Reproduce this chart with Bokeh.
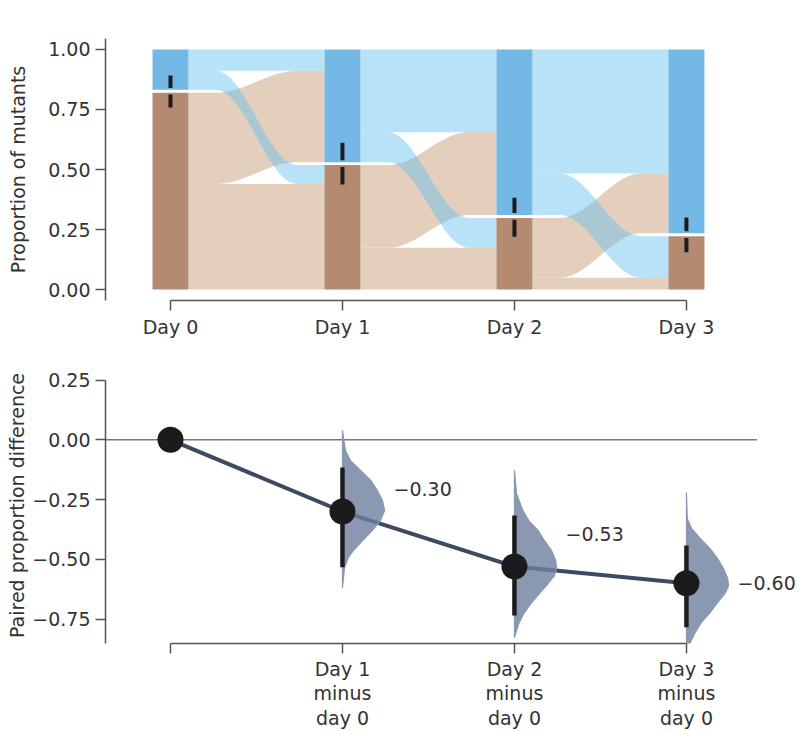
import numpy as np
from bokeh.plotting import figure
from bokeh.layouts import column
from bokeh.models import Range1d, FixedTicker, CustomJSTickFormatter
from bokeh.core.properties import value
from bokeh.embed import file_html
from bokeh.resources import INLINE

# ---------------- data ----------------
days = ["Day 0", "Day 1", "Day 2", "Day 3"]
mutant_prop = [0.83, 0.525, 0.302, 0.225]
ci_low = [0.758, 0.4375, 0.22, 0.155]
ci_high = [0.892, 0.611, 0.382, 0.30]

# transitions between consecutive days (fractions of the population)
stay_wt = [0.09, 0.349, 0.523]
wt_to_mut = [0.08, 0.126, 0.175]
mut_to_wt = [0.385, 0.349, 0.252]
stay_mut = [0.445, 0.176, 0.05]

diff_labels = ["", "Day 1\nminus\nday 0", "Day 2\nminus\nday 0", "Day 3\nminus\nday 0"]
diff_mean = [0.0, -0.30, -0.53, -0.60]
diff_lo = [-0.533, -0.735, -0.784]
diff_hi = [-0.116, -0.317, -0.442]
diff_text = ["\u22120.30", "\u22120.53", "\u22120.60"]
label_y = [-0.205, -0.396, -0.597]

# bootstrap density (relative half-width)
dens_y = [
    [0.04, -0.045, -0.087, -0.128, -0.170, -0.212, -0.254, -0.296, -0.338, -0.379, -0.421, -0.463, -0.492, -0.534, -0.62],
    [-0.128, -0.225, -0.296, -0.338, -0.379, -0.421, -0.463, -0.505, -0.534, -0.568, -0.601, -0.643, -0.685, -0.727, -0.769, -0.810, -0.827],
    [-0.22, -0.329, -0.371, -0.413, -0.455, -0.497, -0.539, -0.580, -0.610, -0.639, -0.681, -0.723, -0.765, -0.806, -0.848, -0.88],
]
dens_w = [
    [0.0, 0.07, 0.19, 0.43, 0.67, 0.83, 0.95, 1.0, 0.90, 0.71, 0.48, 0.26, 0.14, 0.05, 0.0],
    [0.0, 0.05, 0.2, 0.34, 0.56, 0.71, 0.88, 0.98, 1.0, 0.95, 0.8, 0.59, 0.39, 0.22, 0.1, 0.03, 0.0],
    [0.0, 0.02, 0.12, 0.33, 0.56, 0.74, 0.88, 0.98, 1.0, 0.93, 0.74, 0.56, 0.35, 0.21, 0.09, 0.0],
]

# ---------------- styles ----------------
FONT = "DejaVu Sans"
TXT = "#333333"
AX = "#555555"
BROWN_BAR = "#b48a71"
BLUE_BAR = "#74b9e6"
BEIGE = "#e4cfbd"
BLUE_FLOW = "#61bef0"
BAR_HW = 0.1047
GAP = 0.012
SC = 1 - GAP
VIOLIN_W = 0.245

X0, X1 = -0.3779, 3.64


def style(p):
    p.outline_line_color = None
    p.xgrid.visible = False
    p.ygrid.visible = False
    p.background_fill_color = "white"
    p.border_fill_color = "white"
    for ax in (p.xaxis[0], p.yaxis[0]):
        ax.axis_line_color = AX
        ax.axis_line_width = 1.5
        ax.major_tick_line_color = AX
        ax.major_tick_line_width = 1.5
        ax.major_tick_out = 10
        ax.major_tick_in = 0
        ax.minor_tick_line_color = None
        ax.major_label_text_font = FONT
        ax.major_label_text_font_size = "19px"
        ax.major_label_text_color = TXT
        ax.axis_label_text_font = FONT
        ax.axis_label_text_font_size = "19px"
        ax.axis_label_text_color = TXT
        ax.axis_label_text_font_style = "normal"
        ax.major_label_standoff = 5


# ---------------- top: sankey of proportions ----------------
p1 = figure(width=798, height=348, x_range=Range1d(X0, X1), y_range=Range1d(-0.0458, 1.0458),
            output_backend="svg", toolbar_location=None,
            min_border_left=105, min_border_right=2, min_border_top=38, min_border_bottom=48)
style(p1)


def curve(xa, xb, ya, yb, n=80):
    xs = np.linspace(xa, xb, n)
    t = (xs - xa) / (xb - xa)
    u = np.clip((t - 0.2) / 0.6, 0, 1)
    f = (1 - np.cos(np.pi * u)) / 2
    return xs, ya + (yb - ya) * f


for i in range(3):
    pa, pb = mutant_prop[i], mutant_prop[i + 1]
    xa, xb = i + BAR_HW, i + 1 - BAR_HW
    mm, mn, nm, nn = stay_mut[i], mut_to_wt[i], wt_to_mut[i], stay_wt[i]
    # source layout
    s_mm = (0, mm * SC)
    s_mn = (mm * SC, pa * SC)
    s_nm = (pa * SC + GAP, pa * SC + GAP + nm * SC)
    s_nn = (pa * SC + GAP + nm * SC, 1.0)
    # target layout
    t_mm = (0, mm * SC)
    t_nm = (mm * SC, pb * SC)
    t_mn = (pb * SC + GAP, pb * SC + GAP + mn * SC)
    t_nn = (pb * SC + GAP + mn * SC, 1.0)
    bands = [(s_mm, t_mm, BEIGE, 1.0), (s_mn, t_mn, BEIGE, 1.0),
             (s_nn, t_nn, BLUE_FLOW, 0.45), (s_nm, t_nm, BLUE_FLOW, 0.45)]
    for s, t, col, a in bands:
        xs, lo = curve(xa, xb, s[0], t[0])
        _, hi = curve(xa, xb, s[1], t[1])
        p1.varea(x=xs, y1=lo, y2=hi, fill_color=col, fill_alpha=a)

xd = list(range(4))
p1.quad(left=[x - BAR_HW for x in xd], right=[x + BAR_HW for x in xd],
        bottom=[0] * 4, top=[m * SC for m in mutant_prop], fill_color=BROWN_BAR, line_color=None)
p1.quad(left=[x - BAR_HW for x in xd], right=[x + BAR_HW for x in xd],
        bottom=[m * SC + GAP for m in mutant_prop], top=[1.0] * 4, fill_color=BLUE_BAR, line_color=None)
mid = [m * SC + GAP / 2 for m in mutant_prop]
p1.segment(x0=xd, x1=xd, y0=ci_low, y1=[m - 0.014 for m in mid], line_color="#1c1c1c", line_width=4)
p1.segment(x0=xd, x1=xd, y0=[m + 0.014 for m in mid], y1=ci_high, line_color="#1c1c1c", line_width=4)

p1.xaxis.ticker = FixedTicker(ticks=xd)
p1.xaxis.formatter = CustomJSTickFormatter(args=dict(labels=days), code="return labels[Math.round(tick)];")
p1.xaxis.bounds = (0, 3)
p1.yaxis.ticker = FixedTicker(ticks=[0, 0.25, 0.5, 0.75, 1.0])
p1.yaxis.formatter = CustomJSTickFormatter(code="return tick.toFixed(2).replace('-', '\u2212');")
p1.yaxis.axis_label = "Proportion of mutants"
p1.yaxis.axis_label_standoff = 16

# ---------------- bottom: paired proportion difference ----------------
p2 = figure(width=798, height=383, x_range=Range1d(X0, X1), y_range=Range1d(-0.852, 0.3025),
            output_backend="svg", toolbar_location=None,
            min_border_left=105, min_border_right=2, min_border_top=19, min_border_bottom=88)
style(p2)

p2.segment(x0=[X0], x1=[3.41], y0=[0], y1=[0], line_color="#777777", line_width=1.5)
p2.line(x=xd, y=diff_mean, line_color="#3e4a62", line_width=4)
for k in range(3):
    xv = k + 1
    w = [v * VIOLIN_W for v in dens_w[k]]
    xs = [xv + v for v in w] + [xv] * len(w)
    ys = list(dens_y[k]) + list(dens_y[k])[::-1]
    p2.patch(x=xs, y=ys, fill_color="#6d7e9f", fill_alpha=0.8, line_color="#8a98b2", line_width=1.2)
p2.segment(x0=xd[1:], x1=xd[1:], y0=diff_lo, y1=diff_hi, line_color="#1c1c1c", line_width=4.5)
p2.scatter(x=xd, y=diff_mean, size=26, fill_color="#1b1b1b", line_color=None)
p2.text(x=[x + 0.297 for x in xd[1:]], y=label_y, text=diff_text, text_font=value(FONT),
        text_font_size="19px", text_baseline="middle", text_align="left", text_color=TXT)

p2.xaxis.ticker = FixedTicker(ticks=xd)
p2.xaxis.formatter = CustomJSTickFormatter(args=dict(labels=diff_labels), code="return labels[Math.round(tick)];")
p2.xaxis.bounds = (0, 3)
p2.xaxis.major_label_text_line_height = 1.12
p2.xaxis.major_label_standoff = 4
p2.yaxis.ticker = FixedTicker(ticks=[-0.75, -0.5, -0.25, 0, 0.25])
p2.yaxis.formatter = CustomJSTickFormatter(code="return tick.toFixed(2).replace('-', '\u2212');")
p2.yaxis.bounds = (-0.852, 0.25)
p2.yaxis.axis_label = "Paired proportion difference"
p2.yaxis.axis_label_standoff = 1

layout = column(p1, p2, spacing=0)
open("out.html", "w").write(file_html(layout, INLINE))
